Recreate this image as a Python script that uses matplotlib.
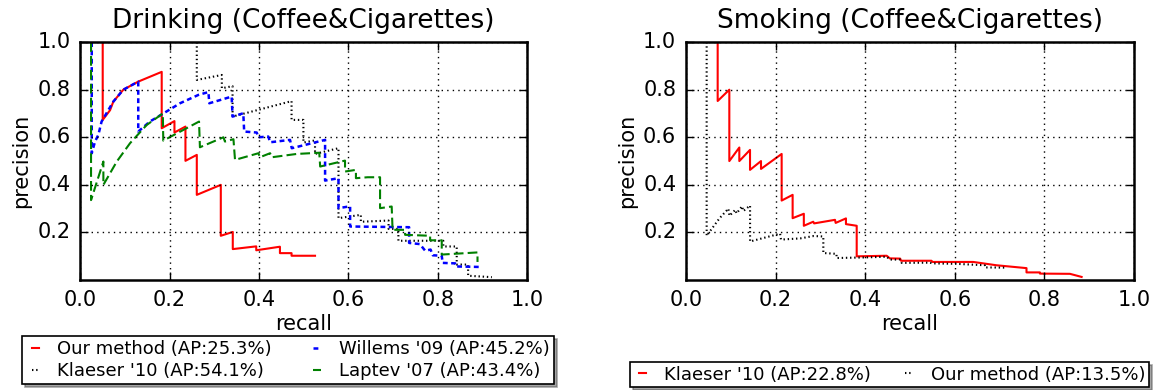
import matplotlib
matplotlib.use("Agg")
import matplotlib.pyplot as plt

plt.style.use("classic")
plt.rcParams["font.family"] = ["DejaVu Sans"]
plt.rcParams["lines.scale_dashes"] = False

# ---------------- Drinking (Coffee&Cigarettes) ----------------
drink_our_recall = [0.0505, 0.0505, 0.067, 0.0743, 0.0966, 0.130, 0.1825, 0.1825, 0.211, 0.211,
                    0.2356, 0.2356, 0.261, 0.261, 0.3147, 0.3147, 0.3415, 0.3415, 0.394, 0.394,
                    0.447, 0.447, 0.473, 0.473, 0.5255]
drink_our_prec = [1.0, 0.673, 0.714, 0.75, 0.80, 0.834, 0.875, 0.638, 0.668, 0.62,
                  0.645, 0.501, 0.526, 0.358, 0.40, 0.186, 0.202, 0.130, 0.1415, 0.125,
                  0.14, 0.113, 0.113, 0.102, 0.102]

drink_klaeser_recall = [0.261, 0.261, 0.317, 0.317, 0.341, 0.341, 0.473, 0.473, 0.4995, 0.4995,
                        0.5255, 0.5255, 0.578, 0.578, 0.628, 0.628, 0.69, 0.69, 0.712, 0.712,
                        0.8125, 0.8125, 0.8425, 0.8425, 0.868, 0.868, 0.921]
drink_klaeser_prec = [1.0, 0.841, 0.862, 0.806, 0.815, 0.687, 0.752, 0.673, 0.673, 0.578,
                      0.587, 0.53, 0.554, 0.26, 0.274, 0.245, 0.25, 0.215, 0.215, 0.165,
                      0.165, 0.141, 0.141, 0.065, 0.065, 0.018, 0.012]

drink_willems_recall = [0.026, 0.026, 0.0333, 0.0407, 0.048, 0.0743, 0.0966, 0.130, 0.130, 0.156,
                        0.186, 0.2235, 0.2645, 0.287, 0.289, 0.339, 0.341, 0.365, 0.367, 0.395,
                        0.399, 0.421, 0.425, 0.4696, 0.4735, 0.548, 0.548, 0.578, 0.578, 0.604,
                        0.604, 0.736, 0.736, 0.760, 0.772, 0.784, 0.789, 0.809, 0.811, 0.839,
                        0.841, 0.892]
drink_willems_prec = [1.0, 0.533, 0.582, 0.61, 0.666, 0.75, 0.80, 0.834, 0.624, 0.666,
                      0.70, 0.743, 0.778, 0.79, 0.743, 0.771, 0.687, 0.701, 0.624, 0.62,
                      0.60, 0.603, 0.579, 0.589, 0.554, 0.589, 0.418, 0.428, 0.302, 0.31,
                      0.225, 0.222, 0.156, 0.151, 0.123, 0.128, 0.104, 0.102, 0.072, 0.070,
                      0.057, 0.055]

drink_laptev_recall = [0.0244, 0.0244, 0.052, 0.052, 0.082, 0.1116, 0.149, 0.185, 0.186, 0.266,
                       0.268, 0.3206, 0.324, 0.343, 0.3465, 0.399, 0.402, 0.425, 0.4286, 0.4846,
                       0.535, 0.537, 0.5926, 0.5926, 0.617, 0.617, 0.643, 0.671, 0.671, 0.697,
                       0.699, 0.727, 0.727, 0.783, 0.783, 0.809, 0.809, 0.889, 0.889]
drink_laptev_prec = [1.0, 0.336, 0.498, 0.40, 0.498, 0.575, 0.652, 0.70, 0.586, 0.666,
                     0.558, 0.600, 0.582, 0.592, 0.505, 0.533, 0.516, 0.533, 0.516, 0.530,
                     0.535, 0.477, 0.502, 0.456, 0.463, 0.428, 0.432, 0.432, 0.302, 0.309,
                     0.211, 0.211, 0.19, 0.186, 0.167, 0.167, 0.107, 0.116, 0.076]

# ---------------- Smoking (Coffee&Cigarettes) ----------------
smoke_klaeser_recall = [0.0707, 0.0707, 0.0967, 0.0967, 0.119, 0.119, 0.1429, 0.1429, 0.1674, 0.1674,
                        0.2135, 0.2135, 0.238, 0.238, 0.263, 0.263, 0.284, 0.286, 0.3326, 0.334,
                        0.357, 0.357, 0.381, 0.381, 0.448, 0.455, 0.478, 0.48, 0.548, 0.55,
                        0.641, 0.693, 0.760, 0.760, 0.79, 0.79, 0.857, 0.883]
smoke_klaeser_prec = [1.0, 0.7525, 0.80, 0.50, 0.557, 0.50, 0.547, 0.463, 0.50, 0.467,
                      0.53, 0.334, 0.358, 0.26, 0.2785, 0.228, 0.245, 0.238, 0.253, 0.24,
                      0.259, 0.235, 0.228, 0.0995, 0.102, 0.091, 0.09, 0.081, 0.081, 0.076,
                      0.076, 0.062, 0.050, 0.032, 0.032, 0.027, 0.026, 0.013]

smoke_our_recall = [0.0461, 0.0461, 0.075, 0.0945, 0.097, 0.11, 0.113, 0.125, 0.128, 0.143,
                    0.143, 0.21, 0.212, 0.255, 0.285, 0.3065, 0.3065, 0.336, 0.336, 0.40,
                    0.448, 0.455, 0.478, 0.4815, 0.5446, 0.55, 0.604, 0.667, 0.667, 0.716]
smoke_our_prec = [1.0, 0.186, 0.26, 0.30, 0.27, 0.295, 0.28, 0.31, 0.29, 0.313,
                  0.162, 0.195, 0.17, 0.175, 0.185, 0.183, 0.1135, 0.11, 0.0925, 0.095,
                  0.098, 0.086, 0.086, 0.072, 0.073, 0.07, 0.068, 0.062, 0.053, 0.052]

ticks = [0.0, 0.2, 0.4, 0.6, 0.8, 1.0]
xticklabels = ["0.0", "0.2", "0.4", "0.6", "0.8", "1.0"]
yticks = [0.2, 0.4, 0.6, 0.8, 1.0]
yticklabels = ["0.2", "0.4", "0.6", "0.8", "1.0"]

fig = plt.figure(figsize=(11.58, 3.90), dpi=100, facecolor="white")
ax1 = fig.add_axes([0.0692, 0.282, 0.386, 0.610])
ax2 = fig.add_axes([0.5924, 0.282, 0.3869, 0.610])

lw = 1.5
l1, = ax1.plot(drink_our_recall, drink_our_prec, color="red", lw=lw, ls="-",
               label="Our method (AP:25.3%)")
l2, = ax1.plot(drink_klaeser_recall, drink_klaeser_prec, color="black", lw=lw,
               dashes=(1.0, 2.0), label="Klaeser '10 (AP:54.1%)")
l3, = ax1.plot(drink_willems_recall, drink_willems_prec, color="blue", lw=lw + 0.3,
               dashes=(3.5, 2.5), label="Willems '09 (AP:45.2%)")
l4, = ax1.plot(drink_laptev_recall, drink_laptev_prec, color="green", lw=lw,
               dashes=(7, 3), label="Laptev '07 (AP:43.4%)")

r1, = ax2.plot(smoke_klaeser_recall, smoke_klaeser_prec, color="red", lw=lw, ls="-",
               label="Klaeser '10 (AP:22.8%)")
r2, = ax2.plot(smoke_our_recall, smoke_our_prec, color="black", lw=lw,
               dashes=(1.0, 2.0), label="Our method (AP:13.5%)")

for ax, title in ((ax1, "Drinking (Coffee&Cigarettes)"), (ax2, "Smoking (Coffee&Cigarettes)")):
    ax.set_xlim(0, 1)
    ax.set_ylim(0, 1)
    ax.set_xticks(ticks)
    ax.set_xticklabels(xticklabels)
    ax.set_yticks(yticks)
    ax.set_yticklabels(yticklabels)
    ax.grid(True, color="black", linestyle=":", linewidth=1.0)
    ax.tick_params(labelsize=15, direction="in", length=6, width=1, top=True, right=True,
                   pad=7)
    ax.set_xlabel("recall", fontsize=15, labelpad=3)
    ax.set_ylabel("precision", fontsize=15, labelpad=4)
    ax.set_title(title, fontsize=19, pad=10)
    for sp in ax.spines.values():
        sp.set_linewidth(1.8)

leg1 = fig.legend(handles=[l1, l2, l3, l4], loc="upper left", bbox_to_anchor=(0.019, 0.139),
                  ncol=2, fontsize=13, handlelength=1.0, handletextpad=0.7, columnspacing=2.0,
                  borderpad=0.25, labelspacing=0.2, fancybox=False, shadow=True,
                  frameon=True, borderaxespad=0.0)
leg1.get_frame().set_edgecolor("black")
leg1.get_frame().set_linewidth(1.2)

leg2 = fig.legend(handles=[r1, r2], loc="upper left", bbox_to_anchor=(0.544, 0.072),
                  ncol=2, fontsize=13, handlelength=1.0, handletextpad=0.7, columnspacing=1.6,
                  borderpad=0.2, labelspacing=0.2, fancybox=False, shadow=True,
                  frameon=True, borderaxespad=0.0)
leg2.get_frame().set_edgecolor("black")
leg2.get_frame().set_linewidth(1.2)

fig.savefig("out.png", dpi=100, facecolor="white")
